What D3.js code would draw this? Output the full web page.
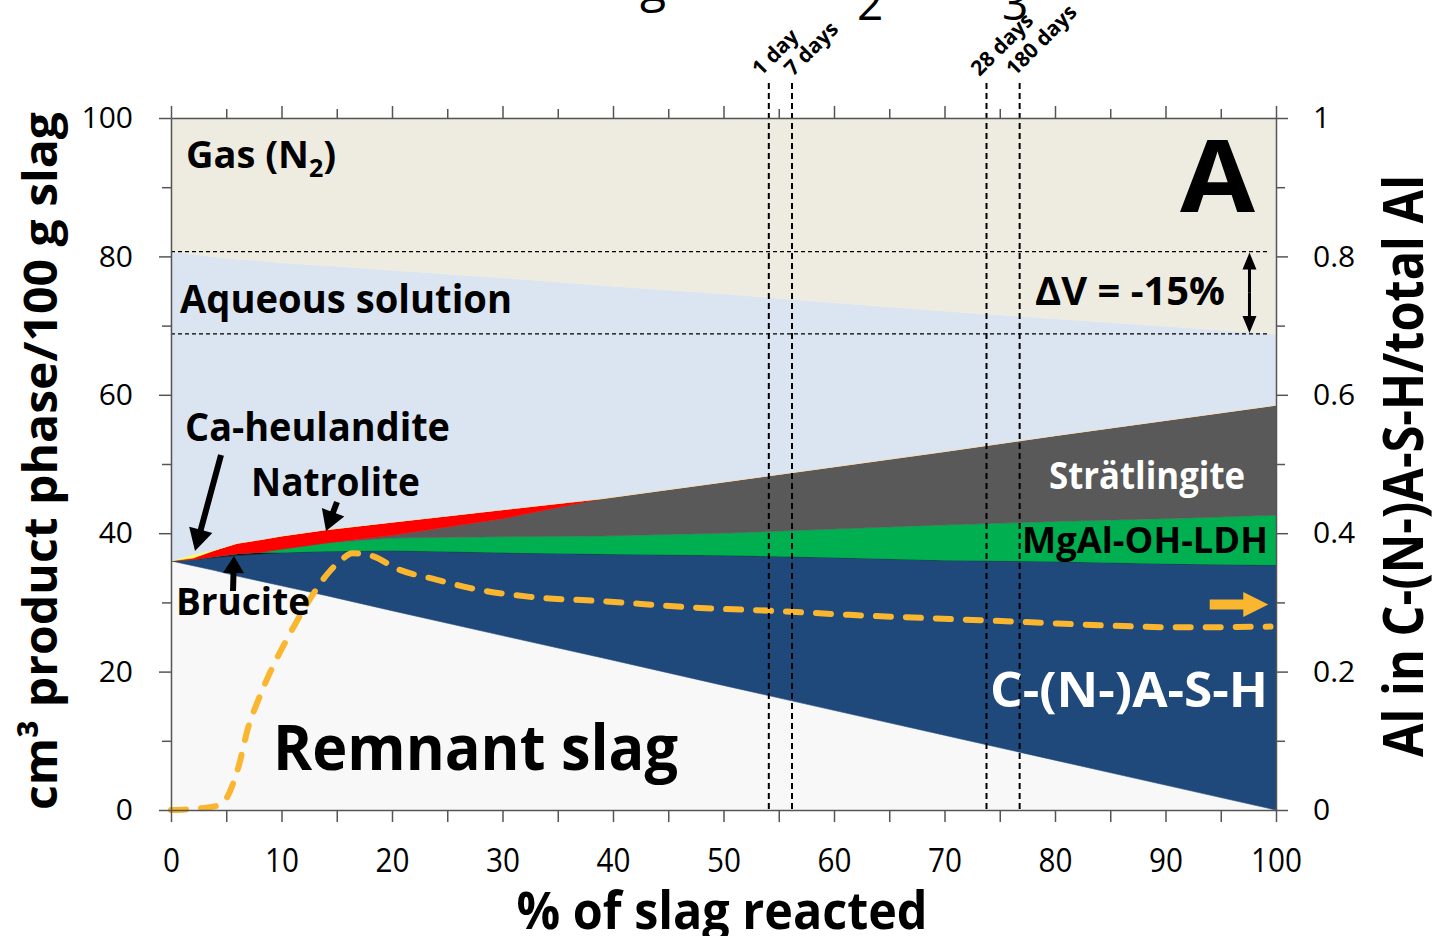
<!DOCTYPE html>
<html>
<head>
<meta charset="utf-8">
<script src="https://cdn.jsdelivr.net/npm/d3@7"></script>
<style>
  html, body { margin: 0; padding: 0; background: #ffffff; }
  svg { display: block; }
  text { font-family: "Open Sans", "DejaVu Sans", sans-serif; }
</style>
</head>
<body>
<svg id="chart" width="1441" height="936"></svg>
<script>
// ---- Phase assemblage vs. slag reaction (cm3 per 100 g slag) ----
const reacted   = [0,    2,    4,    6,    8,    10,   14,   20,   30,   39,   50,   60,   70,   80,   90,   100];
const slag      = [36.0, 35.3, 34.6, 33.8, 33.1, 32.4, 31.0, 28.8, 25.2, 22.0, 18.0, 14.4, 10.8, 7.2,  3.6,  0.0];
const cash      = [0.0,  0.9,  1.9,  3.0,  3.9,  4.8,  6.4,  8.7,  12.0, 15.0, 18.8, 22.1, 25.3, 28.7, 32.0, 35.4];
const brucite   = [0.0,  0.0,  0.15, 0.25, 0.25, 0.0,  0.0,  0.0,  0.0,  0.0,  0.0,  0.0,  0.0,  0.0,  0.0,  0.0];
const ldh       = [0.0,  0.0,  0.0,  0.0,  0.0,  0.5,  1.2,  1.8,  2.3,  2.6,  3.2,  4.1,  5.1,  5.8,  6.5,  7.2];
const stratling = [0.0,  0.0,  0.0,  0.0,  0.0,  0.0,  0.0,  0.4,  2.6,  5.4,  7.4,  9.0,  10.6, 12.4, 14.2, 15.9];
const natrolite = [0.0,  0.2,  0.9,  1.5,  1.8,  1.9,  1.9,  1.9,  1.3,  0.0,  0.0,  0.0,  0.0,  0.0,  0.0,  0.0];
const heuland   = [0.0,  0.5,  0.05, 0.0,  0.0,  0.0,  0.0,  0.0,  0.0,  0.0,  0.0,  0.0,  0.0,  0.0,  0.0,  0.0];
const aqueous   = [44.7, 43.4, 42.3, 41.05,40.35,39.5, 38.2, 36.4, 33.5, 30.8, 27.2, 23.7, 20.3, 16.9, 13.6, 10.3];
const gas       = [19.3, 19.7, 20.1, 20.4, 20.6, 20.9, 21.3, 22.0, 23.1, 24.2, 25.4, 26.7, 27.9, 29.0, 30.1, 31.2];

// ---- Al in C-(N-)A-S-H / total Al (right axis) ----
const alReacted = [0, 3, 4.5, 6.1, 7.0, 7.9, 9.0, 10.6, 12.7, 14.2, 15.4, 16.4, 18.0, 20.7, 24.0, 27.0, 32.5, 38.8, 47.9, 54.2, 61.4, 70.5, 76.8, 84.0, 91.3, 99.5];
const alFrac    = [0, 0.003, 0.008, 0.062, 0.12, 0.159, 0.2, 0.25, 0.308, 0.342, 0.361, 0.371, 0.368, 0.347, 0.333, 0.321, 0.308, 0.302, 0.292, 0.288, 0.282, 0.276, 0.272, 0.267, 0.264, 0.265];

// ---- Curing ages ----
const ageLabels  = ["1 day", "7 days", "28 days", "180 days"];
const ageReacted = [54.1, 56.2, 73.8, 76.8];
const ageLabelShift = [-8, 1, -7, -5];

// ---- Ticks ----
const xTicks      = [0, 10, 20, 30, 40, 50, 60, 70, 80, 90, 100];
const xMinorTicks = [5, 15, 25, 35, 45, 55, 65, 75, 85, 95];
const yTicks      = [0, 20, 40, 60, 80, 100];
const yMinorTicks = [10, 30, 50, 70, 90];
const rTicks      = [0, 0.2, 0.4, 0.6, 0.8, 1];
const rMinorTicks = [0.1, 0.3, 0.5, 0.7, 0.9];

const phaseKeys = ["slag", "cash", "brucite", "ldh", "stratling", "natrolite", "heuland", "aqueous", "gas"];
const phaseColor = {
  slag: "#f8f8f8", cash: "#1f487b", brucite: "#111111", ldh: "#00b050",
  stratling: "#595959", natrolite: "#ff0000", heuland: "#ffff66",
  aqueous: "#dbe5f1", gas: "#eeece1"
};
const phaseSeries = { slag, cash, brucite, ldh, stratling, natrolite, heuland, aqueous, gas };

const rows = reacted.map((r, i) => {
  const o = { reacted: r };
  phaseKeys.forEach(k => { o[k] = phaseSeries[k][i]; });
  return o;
});

const svg = d3.select("#chart");
const L = 171, R = 1276, T = 118, B = 810;

const x  = d3.scaleLinear().domain([0, 100]).range([L, R]);
const y  = d3.scaleLinear().domain([0, 100]).range([B, T]);
const yR = d3.scaleLinear().domain([0, 1]).range([B, T]);

// stacked phase areas
const stacked = d3.stack().keys(phaseKeys)(rows);
const area = d3.area()
  .x(d => x(d.data.reacted))
  .y0(d => y(d[0]))
  .y1(d => y(d[1]));

svg.append("g").selectAll("path")
  .data(stacked)
  .join("path")
  .attr("d", area)
  .attr("fill", d => phaseColor[d.key])
  .attr("stroke", d => phaseColor[d.key])
  .attr("stroke-width", 0.6);

// total volume (solids + solution) at start and end
const aqLayer = stacked.find(s => s.key === "aqueous");
const vStart = aqLayer[0][1];
const vEnd = aqLayer[aqLayer.length - 1][1];
const dV = Math.round((vEnd - vStart) / vStart * 100);

const dashG = svg.append("g");
[vStart, vEnd].forEach(v => {
  dashG.append("line")
    .attr("x1", x(0)).attr("x2", x(99.3))
    .attr("y1", y(v)).attr("y2", y(v))
    .attr("stroke", "#000").attr("stroke-width", 1.2)
    .attr("stroke-dasharray", "4,3");
});

// Al fraction curve
const alLine = d3.line()
  .x((d, i) => x(alReacted[i]))
  .y(d => yR(d))
  .curve(d3.curveMonotoneX);
svg.append("path")
  .attr("d", alLine(alFrac))
  .attr("fill", "none")
  .attr("stroke", "#fbb630")
  .attr("stroke-width", 6)
  .attr("stroke-linecap", "round")
  .attr("stroke-dasharray", "15,15");

// curing-age markers
const ageG = svg.append("g");
ageReacted.forEach((a, i) => {
  ageG.append("line")
    .attr("x1", x(a)).attr("x2", x(a))
    .attr("y1", 83).attr("y2", B)
    .attr("stroke", "#000").attr("stroke-width", 2)
    .attr("stroke-dasharray", "6,4");
  ageG.append("text")
    .attr("transform", `translate(${x(a) + ageLabelShift[i]},${77}) rotate(-45)`)
    .attr("font-size", 21).attr("font-weight", 700)
    .text(ageLabels[i]);
});

// axes
function styleAxis(g) {
  g.select(".domain").attr("stroke", "#555").attr("stroke-width", 1.5);
  g.selectAll(".tick line").attr("stroke", "#555").attr("stroke-width", 1.5);
}
const axB = svg.append("g").attr("transform", `translate(0,${B})`)
  .call(d3.axisBottom(x).tickValues(xTicks).tickSize(12).tickSizeOuter(0).tickFormat(d3.format("d")));
axB.call(styleAxis);
axB.selectAll(".tick text")
  .attr("y", 62).attr("dy", 0)
  .attr("font-family", "'Open Sans', sans-serif").attr("font-size", 33)
  .attr("fill", "#000")
  .attr("transform", "scale(0.9,1)");
svg.append("g").attr("transform", `translate(0,${B})`)
  .call(d3.axisBottom(x).tickValues(xMinorTicks).tickSize(12).tickFormat(""))
  .call(styleAxis).select(".domain").remove();

const axT = svg.append("g").attr("transform", `translate(0,${T})`)
  .call(d3.axisTop(x).tickValues(xTicks).tickSize(12).tickSizeOuter(0).tickFormat(""));
axT.call(styleAxis);
svg.append("g").attr("transform", `translate(0,${T})`)
  .call(d3.axisTop(x).tickValues(xMinorTicks).tickSize(9).tickFormat(""))
  .call(styleAxis).select(".domain").remove();

const axL = svg.append("g").attr("transform", `translate(${L},0)`)
  .call(d3.axisLeft(y).tickValues(yTicks).tickSize(12).tickSizeOuter(0).tickFormat(d3.format("d")));
axL.call(styleAxis);
axL.selectAll(".tick text")
  .attr("x", -38)
  .attr("font-family", "'DejaVu Sans', sans-serif").attr("font-size", 30)
  .attr("fill", "#000");
svg.append("g").attr("transform", `translate(${L},0)`)
  .call(d3.axisLeft(y).tickValues(yMinorTicks).tickSize(9).tickFormat(""))
  .call(styleAxis).select(".domain").remove();

const axR = svg.append("g").attr("transform", `translate(${R},0)`)
  .call(d3.axisRight(yR).tickValues(rTicks).tickSize(12).tickSizeOuter(0).tickFormat(d => d === 0 || d === 1 ? d3.format("d")(d) : d3.format(".1f")(d)));
axR.call(styleAxis);
axR.selectAll(".tick text")
  .attr("x", 37)
  .attr("font-family", "'DejaVu Sans', sans-serif").attr("font-size", 30)
  .attr("fill", "#000");
svg.append("g").attr("transform", `translate(${R},0)`)
  .call(d3.axisRight(yR).tickValues(rMinorTicks).tickSize(9).tickFormat(""))
  .call(styleAxis).select(".domain").remove();

// axis titles
function fitText(parent, str, px, py, size, len, opts = {}) {
  const t = parent.append("text")
    .attr("x", px).attr("y", py)
    .attr("font-size", size)
    .attr("font-weight", opts.weight || 700)
    .attr("fill", opts.fill || "#000")
    .attr("text-anchor", opts.anchor || "start")
    .attr("textLength", len)
    .attr("lengthAdjust", "spacingAndGlyphs")
    .text(str);
  if (opts.transform) t.attr("transform", opts.transform);
  return t;
}
fitText(svg, "cm³ product phase/100 g slag", 0, 0, 47, 698,
  { anchor: "middle", transform: "translate(57,461) rotate(-90)" });
fitText(svg, "Al in C-(N-)A-S-H/total Al", 0, 0, 56, 582,
  { anchor: "middle", transform: "translate(1423,466) rotate(-90)" });
fitText(svg, "% of slag reacted", 722, 929, 52, 411, { anchor: "middle" });

// heading glyphs running off the top edge
svg.append("text").attr("x", 640).attr("y", 2).attr("font-size", 48).text("g");
svg.append("text").attr("x", 857).attr("y", 20).attr("font-size", 46).text("2");
svg.append("text").attr("x", 1002).attr("y", 20).attr("font-size", 46).text("3");

// phase labels
const gasT = svg.append("text").attr("x", 186).attr("y", 168)
  .attr("font-size", 38).attr("font-weight", 700);
gasT.append("tspan").text("Gas (N");
gasT.append("tspan").attr("font-size", 25).attr("dy", 9).text("2");
gasT.append("tspan").attr("dy", -9).text(")");

fitText(svg, "Aqueous solution", 180, 313, 39, 332);
fitText(svg, "Ca-heulandite", 185, 441, 39, 265);
fitText(svg, "Natrolite", 251, 496, 39, 169);
fitText(svg, "Brucite", 176, 615, 38, 134);
fitText(svg, "Remnant slag", 273, 770, 63, 405);
fitText(svg, "Strätlingite", 1049, 489, 38, 196, { fill: "#ffffff" });
fitText(svg, "MgAl-OH-LDH", 1022, 553, 36, 246);
fitText(svg, "C-(N-)A-S-H", 990, 707, 49, 278, { fill: "#ffffff" });
fitText(svg, "A", 1180, 212, 101, 75);
fitText(svg, `ΔV = ${dV}%`, 1035, 305, 39, 190);

// arrows
function blockArrow(x1, y1, x2, y2, w, headLen, headW, color) {
  const dx = x2 - x1, dy = y2 - y1, len = Math.hypot(dx, dy);
  const ux = dx / len, uy = dy / len, nx = -uy, ny = ux;
  const bx = x2 - ux * headLen, by = y2 - uy * headLen;
  const p = [
    [x1 + nx * w / 2, y1 + ny * w / 2],
    [bx + nx * w / 2, by + ny * w / 2],
    [bx + nx * headW / 2, by + ny * headW / 2],
    [x2, y2],
    [bx - nx * headW / 2, by - ny * headW / 2],
    [bx - nx * w / 2, by - ny * w / 2],
    [x1 - nx * w / 2, y1 - ny * w / 2]
  ];
  svg.append("polygon").attr("points", p.map(q => q.join(",")).join(" ")).attr("fill", color);
}
blockArrow(221, 455, 195, 551, 6, 22, 24, "#000");
blockArrow(337, 502, 326, 531, 6, 20, 24, "#000");
blockArrow(233, 591, 234, 556, 6, 17, 21, "#000");
blockArrow(x(94), yR(0.297), x(99.3), yR(0.297), 10, 25, 25, "#fbb630");

// total volume change arrow
const dvX = x(97.6);
blockArrow(dvX, (y(vStart) + y(vEnd)) / 2, dvX, y(vStart) + 1, 3, 17, 14, "#000");
blockArrow(dvX, (y(vStart) + y(vEnd)) / 2, dvX, y(vEnd) - 1, 3, 17, 14, "#000");
</script>
</body>
</html>
